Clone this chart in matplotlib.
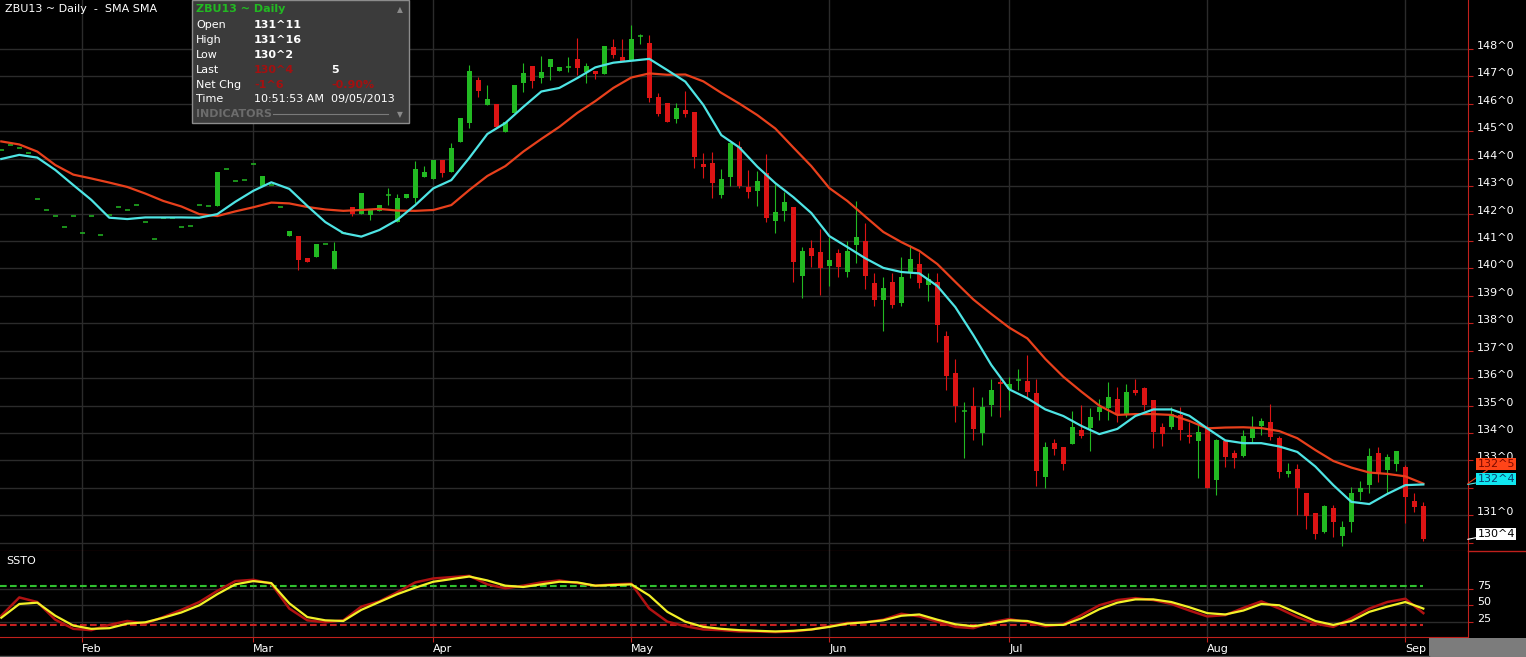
import numpy as np
import matplotlib
matplotlib.use('Agg')
import matplotlib.pyplot as plt
from matplotlib.patches import Rectangle
from matplotlib.lines import Line2D

# ---- data (trading days from Jan 18 to Sep 5, 2013) ----
opens = [144.31, 144.49, 144.40, 144.20, 142.52, 142.12, 141.90, 141.50, 141.90, 141.28,
         141.90, 141.21, 141.96, 142.23, 142.12, 142.30, 141.68, 141.06, 141.85, 141.85,
         141.50, 141.53, 142.30, 142.27, 142.29, 143.64, 143.18, 143.22, 143.80, 143.02,
         143.03, 142.23, 141.19, 141.19, 140.37, 140.43, 140.88, 139.97, 141.29, 142.24,
         141.98, 141.95, 142.09, 142.67, 141.70, 142.58, 142.56, 143.34, 143.25, 143.95,
         143.53, 144.60, 145.29, 146.87, 145.96, 146.00, 144.96, 145.66, 146.77, 147.39,
         146.93, 147.36, 147.21, 147.33, 147.64, 147.17, 147.21, 147.08, 148.06, 147.72,
         147.60, 148.47, 148.21, 146.24, 146.02, 145.45, 145.78, 145.69, 143.80, 143.83,
         142.68, 143.32, 144.44, 142.98, 142.82, 143.47, 141.73, 142.09, 142.23, 139.72,
         140.73, 140.59, 140.10, 140.57, 139.88, 140.85, 141.01, 139.48, 138.85, 139.49,
         138.73, 139.88, 140.16, 139.40, 139.52, 137.55, 136.20, 134.80, 134.98, 134.00,
         135.03, 135.87, 135.60, 135.93, 135.90, 135.47, 132.41, 133.65, 133.50, 133.59,
         134.11, 134.17, 134.78, 134.90, 135.23, 134.69, 135.57, 135.63, 135.20, 134.21,
         134.23, 134.66, 133.93, 133.72, 134.21, 132.29, 133.71, 133.26, 133.16, 133.81,
         134.26, 134.41, 133.81, 132.49, 132.69, 131.82, 131.07, 130.38, 131.28, 130.26,
         130.77, 131.86, 132.10, 133.26, 132.65, 132.87, 132.75, 131.53, 131.34]
highs = [144.31, 144.49, 144.40, 144.20, 142.52, 142.12, 141.90, 141.50, 141.90, 141.28,
         141.90, 141.21, 141.96, 142.23, 142.12, 142.30, 141.68, 141.06, 141.85, 141.85,
         141.50, 141.53, 142.30, 142.27, 143.50, 143.64, 143.18, 143.22, 143.80, 143.37,
         143.03, 142.23, 141.36, 141.19, 140.37, 140.89, 140.88, 140.95, 141.29, 142.24,
         142.76, 142.16, 142.31, 142.92, 142.73, 142.70, 143.92, 143.73, 143.95, 143.95,
         144.56, 145.47, 147.42, 146.99, 146.69, 146.00, 145.35, 146.69, 147.48, 147.39,
         147.74, 147.64, 147.36, 147.72, 148.39, 147.48, 147.21, 148.11, 148.36, 148.36,
         148.87, 148.55, 148.51, 146.38, 146.02, 146.02, 146.47, 145.69, 144.20, 144.23,
         143.63, 144.56, 144.66, 143.59, 143.55, 144.16, 143.07, 142.77, 142.23, 140.79,
         141.03, 141.43, 141.16, 140.70, 141.00, 142.46, 141.65, 139.82, 139.68, 139.82,
         140.43, 140.85, 140.61, 139.82, 139.85, 137.72, 136.70, 135.14, 135.69, 135.30,
         135.96, 136.05, 136.05, 136.33, 136.84, 135.97, 133.68, 133.80, 133.50, 134.80,
         135.02, 134.90, 135.23, 135.85, 135.67, 135.78, 135.96, 135.69, 135.20, 134.38,
         134.94, 134.96, 134.41, 134.29, 134.30, 133.80, 133.71, 133.38, 134.11, 134.62,
         134.54, 135.06, 133.89, 132.90, 132.86, 131.82, 131.07, 131.38, 131.38, 130.79,
         132.04, 132.25, 133.44, 133.48, 133.24, 133.35, 132.83, 131.80, 131.50]
lows = [144.31, 144.49, 144.40, 144.20, 142.52, 142.12, 141.90, 141.50, 141.90, 141.28,
        141.90, 141.21, 141.96, 142.23, 142.12, 142.30, 141.68, 141.06, 141.85, 141.85,
        141.50, 141.53, 142.30, 142.27, 142.29, 143.64, 143.18, 143.22, 143.80, 143.02,
        143.03, 142.23, 141.19, 139.94, 140.25, 140.43, 140.88, 139.97, 141.29, 141.90,
        141.98, 141.77, 142.09, 142.31, 141.70, 142.58, 142.38, 143.34, 143.25, 143.34,
        143.53, 144.60, 145.13, 146.26, 145.96, 145.17, 144.96, 145.66, 146.44, 146.57,
        146.75, 146.87, 147.21, 147.17, 147.05, 146.77, 146.90, 147.08, 147.66, 147.56,
        147.60, 148.20, 146.08, 145.57, 145.35, 145.29, 145.53, 143.67, 143.31, 142.58,
        142.58, 143.02, 142.92, 142.58, 142.29, 141.68, 141.28, 141.73, 139.52, 138.91,
        140.06, 139.03, 139.37, 139.70, 139.70, 140.21, 139.25, 138.63, 137.72, 138.55,
        138.63, 139.64, 139.30, 138.81, 137.33, 135.57, 134.41, 133.10, 133.75, 133.56,
        134.62, 134.60, 134.84, 135.57, 135.32, 132.07, 132.01, 133.20, 132.65, 133.59,
        133.81, 133.36, 134.47, 134.47, 134.41, 134.60, 135.40, 134.84, 133.46, 133.53,
        134.15, 133.75, 133.65, 132.37, 131.99, 131.74, 132.77, 132.74, 133.14, 133.68,
        133.93, 133.75, 132.35, 132.41, 131.00, 130.49, 130.12, 130.34, 130.20, 129.88,
        130.38, 131.56, 131.80, 132.23, 131.80, 132.60, 130.73, 131.13, 130.06]
closes = [144.31, 144.49, 144.40, 144.20, 142.52, 142.12, 141.90, 141.50, 141.90, 141.28,
          141.90, 141.21, 141.96, 142.23, 142.12, 142.30, 141.68, 141.06, 141.85, 141.85,
          141.50, 141.53, 142.30, 142.27, 143.50, 143.64, 143.18, 143.22, 143.80, 143.37,
          143.03, 142.23, 141.36, 140.30, 140.25, 140.89, 140.88, 140.64, 141.29, 142.00,
          142.76, 142.16, 142.31, 142.67, 142.55, 142.70, 143.63, 143.53, 143.95, 143.49,
          144.38, 145.47, 147.20, 146.47, 146.18, 145.17, 145.35, 146.69, 147.11, 146.83,
          147.17, 147.64, 147.36, 147.33, 147.30, 147.38, 147.08, 148.11, 147.78, 147.56,
          148.36, 148.47, 146.20, 145.63, 145.35, 145.84, 145.63, 144.07, 143.71, 143.10,
          143.25, 144.56, 143.02, 142.77, 143.19, 141.85, 142.05, 142.43, 140.25, 140.64,
          140.45, 140.01, 140.31, 140.06, 140.64, 141.14, 139.72, 138.85, 139.30, 138.67,
          139.68, 140.33, 139.48, 139.60, 137.94, 136.08, 134.98, 134.80, 134.14, 134.94,
          135.57, 135.78, 135.78, 135.93, 135.51, 132.62, 133.50, 133.42, 132.86, 134.23,
          133.89, 134.60, 134.96, 135.32, 134.69, 135.51, 135.45, 135.02, 134.05, 133.96,
          134.68, 134.11, 133.87, 134.03, 131.99, 133.75, 133.14, 133.08, 133.89, 134.17,
          134.45, 133.86, 132.59, 132.62, 131.99, 130.97, 130.32, 131.34, 130.74, 130.59,
          131.80, 131.99, 133.16, 132.53, 133.12, 133.35, 131.68, 131.31, 130.125]

# moving averages, read every second trading day
sma_fast = [143.99, 144.14, 144.04, 143.59, 143.04, 142.50, 141.85, 141.80, 141.86, 141.86,
            141.86, 141.85, 141.98, 142.43, 142.83, 143.14, 142.90, 142.28, 141.69, 141.29,
            141.16, 141.40, 141.77, 142.31, 142.92, 143.22, 144.03, 144.90, 145.30, 145.89,
            146.45, 146.58, 146.94, 147.33, 147.50, 147.57, 147.64, 147.23, 146.81, 145.96,
            144.86, 144.41, 143.71, 143.11, 142.60, 142.02, 141.18, 140.78, 140.37, 140.02,
            139.87, 139.82, 139.36, 138.59, 137.57, 136.48, 135.59, 135.27, 134.86, 134.62,
            134.26, 133.96, 134.15, 134.62, 134.86, 134.86, 134.63, 134.17, 133.73, 133.63,
            133.63, 133.51, 133.31, 132.78, 132.10, 131.49, 131.41, 131.78, 132.10, 132.125]
sma_slow = [144.63, 144.52, 144.26, 143.77, 143.42, 143.28, 143.13, 142.97, 142.73, 142.46,
            142.26, 141.98, 141.91, 142.08, 142.23, 142.40, 142.37, 142.24, 142.15, 142.10,
            142.13, 142.17, 142.11, 142.10, 142.13, 142.31, 142.86, 143.37, 143.73, 144.26,
            144.72, 145.16, 145.67, 146.10, 146.58, 146.96, 147.11, 147.06, 147.07, 146.82,
            146.40, 146.01, 145.59, 145.10, 144.41, 143.73, 142.93, 142.46, 141.89, 141.33,
            140.96, 140.64, 140.16, 139.51, 138.87, 138.34, 137.84, 137.45, 136.70, 136.05,
            135.51, 135.00, 134.66, 134.69, 134.69, 134.66, 134.44, 134.17, 134.20, 134.21,
            134.18, 134.07, 133.81, 133.38, 132.98, 132.74, 132.56, 132.51, 132.42, 132.156]

# slow stochastics, read every second trading day
ssto_k = [34, 62, 55, 28, 14, 12, 20, 26, 22, 32,
          43, 55, 72, 87, 89, 83, 45, 27, 24, 27,
          48, 56, 70, 85, 91, 93, 95, 82, 76, 80,
          85, 88, 84, 80, 82, 83, 45, 25, 18, 13,
          12, 10, 10, 9, 10, 13, 18, 23, 24, 28,
          37, 33, 25, 17, 15, 24, 29, 24, 18, 21,
          35, 50, 58, 61, 58, 52, 42, 33, 35, 46,
          56, 45, 32, 22, 17, 30, 45, 55, 60, 38]
ssto_d = [31, 52, 54, 34, 19, 14, 15, 22, 24, 31,
          39, 50, 67, 82, 87, 84, 53, 32, 27, 26,
          43, 55, 67, 77, 86, 90, 94, 88, 80, 78,
          82, 86, 85, 80, 81, 82, 65, 40, 25, 17,
          14, 12, 11, 10, 11, 13, 17, 22, 24, 27,
          34, 36, 28, 21, 18, 22, 27, 26, 20, 20,
          30, 44, 54, 59, 59, 55, 47, 38, 36, 42,
          52, 50, 38, 26, 20, 26, 40, 48, 55, 45]

month_labels = ['Feb', 'Mar', 'Apr', 'May', 'Jun', 'Jul', 'Aug', 'Sep']
month_idx = [9, 28, 48, 70, 92, 112, 134, 156]
price_ticks = list(range(130, 149))
hidden_price_labels = [130, 132]   # covered by the last-value boxes
ssto_ticks = [25, 50, 75]
overbought, oversold = 80, 20

# ---- colours ----
GREEN = '#22b922'
RED = '#dc1414'
AXRED = '#c0201c'
GRID = '#2b2b2b'
CYAN = '#4ee4e4'
ORANGE = '#e8401c'

W, H = 1526, 657


def fx(x):
    return x / W


def fy(y):
    return 1 - y / H


def fmt32(p):
    whole = int(np.floor(p + 1e-9))
    n = int(round((p - whole) * 32))
    return f"{whole}^{n}"


plt.rcParams['font.family'] = 'DejaVu Sans'
fig = plt.figure(figsize=(W / 100, H / 100), dpi=100, facecolor='black')

ax = fig.add_axes([0, fy(551), fx(1467.7), 551 / H])
ax2 = fig.add_axes([0, fy(637.3), fx(1467.7), (637.3 - 551) / H], sharex=ax)
for a in (ax, ax2):
    a.set_facecolor('black')
    a.spines['top'].set_visible(False)
    a.spines['left'].set_visible(False)
    a.spines['right'].set_color(AXRED)
    a.spines['bottom'].set_color(AXRED)
    a.grid(True, color=GRID, lw=1)
    a.set_axisbelow(True)
    a.yaxis.tick_right()

# ---- candles ----
o, h, l, c = (np.array(v) for v in (opens, highs, lows, closes))
idx = np.arange(len(o))
up = c >= o
cols = np.where(up, GREEN, RED)
ax.vlines(idx, l, h, colors=cols, lw=0.8, zorder=2)
body = np.abs(c - o)
ax.bar(idx, body, 0.56, bottom=np.minimum(o, c), color=cols, linewidth=0, zorder=2)
flat = body < 0.03
ax.hlines(o[flat], idx[flat] - 0.28, idx[flat] + 0.28, colors=cols[flat], lw=1.1, zorder=2)

# ---- moving averages ----
sma_idx = np.arange(0, len(o), 2)
ax.plot(sma_idx, sma_slow, color=ORANGE, lw=1.6, zorder=3)
ax.plot(sma_idx, sma_fast, color=CYAN, lw=1.6, zorder=4)

ax.set_xlim(-0.144, 162.93)
ax.set_ylim(129.699, 149.786)
ax.set_yticks(price_ticks, ['' if p in hidden_price_labels else f"{p}^0" for p in price_ticks])
ax.tick_params(axis='y', colors=AXRED, labelcolor='white', labelsize=8, length=3.6, pad=3.3)
ax.tick_params(axis='x', length=0, labelbottom=False)
for t in ax.get_yticklabels():
    t.set_va('baseline')

# last value boxes
def value_box(val, dy, fc, tc, lc):
    ax.annotate(fmt32(val), xy=(1.0, val), xycoords=('axes fraction', 'data'),
                xytext=(28.5, dy), textcoords='offset pixels', ha='center', va='center',
                fontsize=8, color=tc, annotation_clip=False, zorder=6,
                bbox=dict(boxstyle='square,pad=0.1', fc=fc, ec='none'),
                arrowprops=dict(arrowstyle='-', color=lc, lw=0.8, shrinkA=0, shrinkB=0))


value_box(sma_slow[-1], 19.6, '#ff4418', '#7a0a00', ORANGE)
value_box(sma_fast[-1], 5.2, '#10e6f0', '#0a3c6e', CYAN)
value_box(closes[-1], 5.6, 'white', 'black', 'white')

# ---- SSTO panel ----
ax2.plot(sma_idx, ssto_k, color='#b01212', lw=1.8, zorder=3)
ax2.plot(sma_idx, ssto_d, color='#f2f028', lw=1.6, zorder=4)
ax2.hlines(overbought, -0.144, idx[-1], colors='#30c030', lw=1.5,
           linestyles=(0, (3.2, 1.6)), zorder=2)
ax2.hlines(oversold, -0.144, idx[-1], colors='#c82020', lw=1.5,
           linestyles=(0, (3.2, 1.6)), zorder=2)
ax2.set_ylim(1.07, 133.0)
ax2.set_yticks(ssto_ticks, [str(v) for v in ssto_ticks])
ax2.tick_params(axis='y', colors=AXRED, labelcolor='white', labelsize=8, length=3.6, pad=3.3)
for t in ax2.get_yticklabels():
    t.set_va('baseline')
ax2.set_xticks(month_idx, month_labels)
ax2.tick_params(axis='x', colors=AXRED, labelcolor='white', labelsize=8, length=3.6, pad=1.2)
for t in ax2.get_xticklabels():
    t.set_ha('left')

# ---- frame pieces outside the axes ----
fig.add_artist(Line2D([fx(1467.7), 1], [fy(551), fy(551)], color=AXRED, lw=1))
fig.add_artist(Rectangle((fx(1429), 0), 1 - fx(1429), fy(638), transform=fig.transFigure,
                         fc='#7c7c7c', ec='none'))
fig.add_artist(Line2D([0, fx(1429)], [fy(656), fy(656)], color='#555555', lw=1))

fig.text(fx(5), fy(9), 'ZBU13 ~ Daily  -  SMA SMA', color='white', fontsize=8, va='center')
fig.text(fx(6), fy(561), 'SSTO', color='white', fontsize=8, va='center')

# ---- quote box ----
fig.add_artist(Rectangle((fx(191.5), fy(123.3)), fx(409.3 - 191.5), 123.3 / H,
                         transform=fig.transFigure, fc='#3b3b3b', ec='#8c8c8c', lw=1, zorder=5))
DRED = '#a41010'
chg = closes[-1] - closes[-2]
pct = chg / closes[-2] * 100
chg_txt = ('-' if chg < 0 else '+') + fmt32(abs(chg))
rows = [
    ('Open', fmt32(opens[-1]), 'white', None),
    ('High', fmt32(highs[-1]), 'white', None),
    ('Low', fmt32(lows[-1]), 'white', None),
    ('Last', fmt32(closes[-1]), DRED, ('5', 'white')),
    ('Net Chg', chg_txt, DRED, (f"{pct:.2f}%", DRED)),
]
fig.text(fx(196), fy(9.3), 'ZBU13 ~ Daily', color='#22b922', fontsize=8,
         fontweight='bold', va='center', zorder=6)
fig.text(fx(400), fy(9.5), '\u25b2', color='#8a8a8a', fontsize=5.5, ha='center', va='center', zorder=6)
for k, (lab, val, vc, extra) in enumerate(rows):
    yy = 25 + k * 14.9
    fig.text(fx(196), fy(yy), lab, color='white', fontsize=8, va='center', zorder=6)
    fig.text(fx(254), fy(yy), val, color=vc, fontsize=8, fontweight='bold', va='center', zorder=6)
    if extra:
        fig.text(fx(331), fy(yy), extra[0], color=extra[1], fontsize=8,
                 fontweight='bold', va='center', zorder=6)
fig.text(fx(196), fy(99.3), 'Time', color='white', fontsize=8, va='center', zorder=6)
fig.text(fx(254), fy(99.3), '10:51:53 AM  09/05/2013', color='white', fontsize=8,
         va='center', zorder=6)
fig.text(fx(196), fy(114.3), 'INDICATORS', color='#6c6c6c', fontsize=8,
         fontweight='bold', va='center', zorder=6)
fig.add_artist(Line2D([fx(273), fx(388)], [fy(114.3), fy(114.3)], color='#7a7a7a', lw=0.8, zorder=6))
fig.text(fx(400), fy(114.5), '\u25bc', color='#8a8a8a', fontsize=5.5, ha='center', va='center', zorder=6)

fig.savefig('out.png', dpi=100, facecolor='black')
